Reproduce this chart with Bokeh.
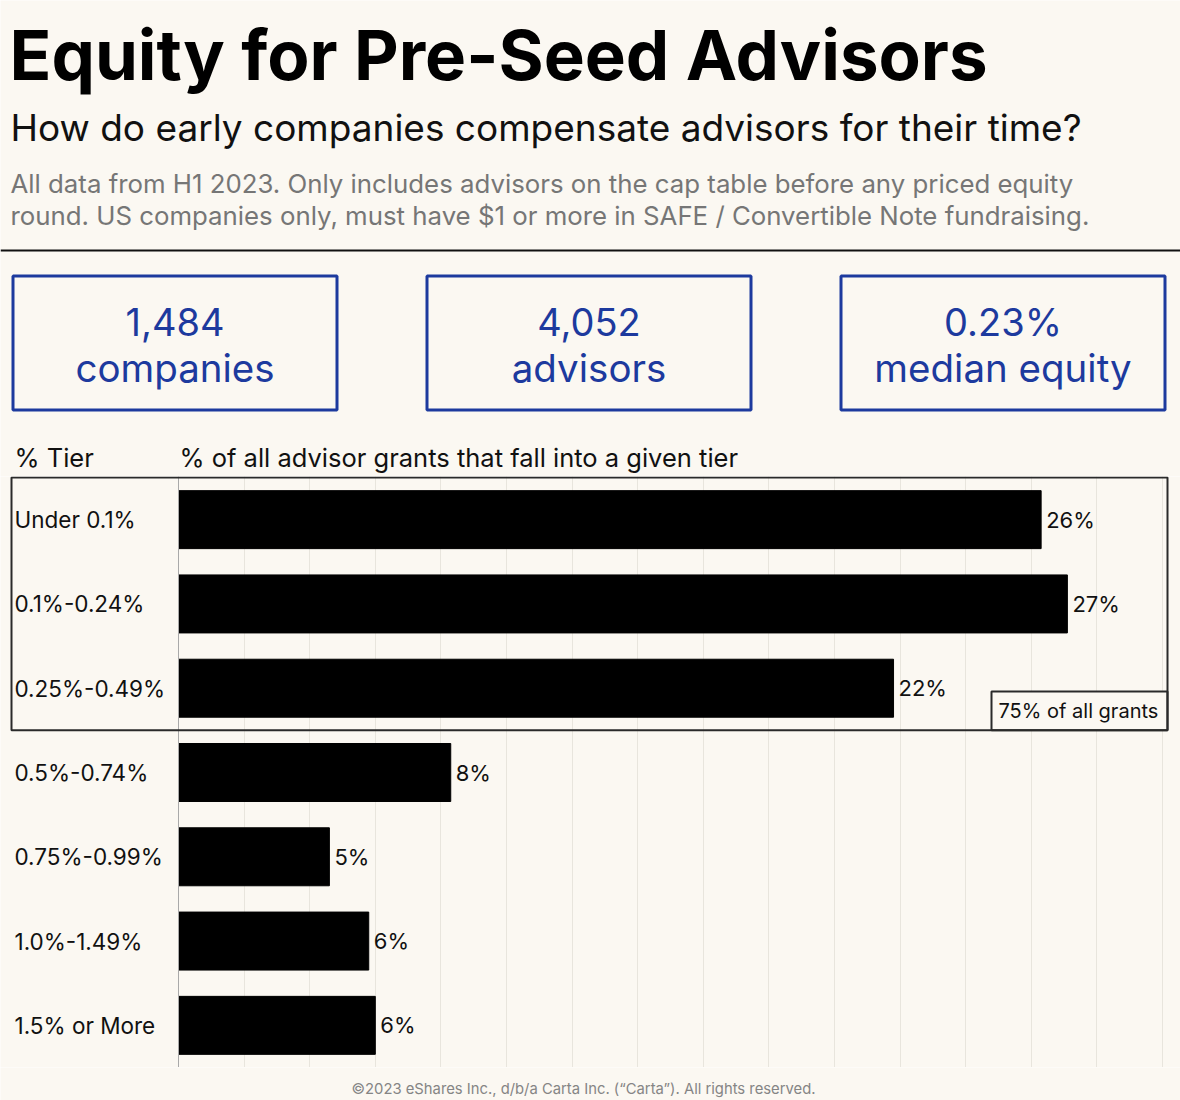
from bokeh.plotting import figure
from bokeh.layouts import column
from bokeh.models import Range1d, Grid, FixedTicker, Span, BoxAnnotation
from bokeh.core.properties import value
from bokeh.embed import file_html
from bokeh.resources import INLINE

# ---------------- data ----------------
title = "Equity for Pre-Seed Advisors"
subtitle = "How do early companies compensate advisors for their time?"
note_lines = [
    "All data from H1 2023. Only includes advisors on the cap table before any priced equity",
    "round. US companies only, must have $1 or more in SAFE / Convertible Note fundraising.",
]
stat_values = ["1,484", "4,052", "0.23%"]
stat_labels = ["companies", "advisors", "median equity"]
tier_header = "% Tier"
share_header = "% of all advisor grants that fall into a given tier"
tiers = ["Under 0.1%", "0.1%-0.24%", "0.25%-0.49%", "0.5%-0.74%",
         "0.75%-0.99%", "1.0%-1.49%", "1.5% or More"]
shares = [26.3, 27.1, 21.8, 8.3, 4.6, 5.8, 6.0]
share_labels = ["26%", "27%", "22%", "8%", "5%", "6%", "6%"]
highlight_count = 3
highlight_label = "75% of all grants"
axis_ticks = list(range(0, 31, 2))
footer = "\u00a92023 eShares Inc., d/b/a Carta Inc. (\u201cCarta\u201d). All rights reserved."

# ---------------- style ----------------
BG = "#fbf8f2"
BLUE = "#1d3a9e"
INK = "#111111"
GRAY = "#767676"
FONT = "Inter"
F = value(FONT)
W = 1180

PX_PER = 32.8      # pixels per percentage point
ZERO_X = 178       # page x of 0%
H1_END = 476       # page y where header ends / chart frame starts
CH_TOP = 477       # page y of first row's top edge
CH_BOT = 1067      # page y of last row's bottom edge
TOTAL_H = 1100


def base_fig(height, xr, yr):
    p = figure(width=W, height=height, x_range=xr, y_range=yr,
               toolbar_location=None, output_backend="svg",
               x_axis_type=None, y_axis_type=None, min_border=0,
               background_fill_color=BG, border_fill_color=BG,
               outline_line_color=None)
    return p


def mtext(p, x, y, text, size, color=INK, align="left", style="normal"):
    p.text(x=x, y=y, text=text, text_font=F, text_font_size=size,
           text_font_style=style, text_align=align, text_baseline="middle",
           text_color=color)


# ---------------- header ----------------
h = base_fig(H1_END, Range1d(0, W), Range1d(H1_END, 0))
mtext(h, [9], [54], [title], "69px", color="#000000", style="bold")
mtext(h, [10], [127], [subtitle], "37px")
mtext(h, [10, 10], [183, 215], note_lines, "25.8px", color=GRAY)
h.segment(x0=[0], y0=[250], x1=[W], y1=[250], line_width=2, line_color=INK)

box_left = [12.5, 426.5, 840.5]
box_w = 324
box_cx = [b + box_w / 2 for b in box_left]
h.quad(left=box_left, right=[b + box_w for b in box_left],
       top=[275.5] * 3, bottom=[409.5] * 3,
       fill_color=None, line_color=BLUE, line_width=3)
mtext(h, box_cx, [321] * 3, stat_values, "38px", color=BLUE, align="center")
mtext(h, box_cx, [367] * 3, stat_labels, "38.5px", color=BLUE, align="center")
mtext(h, [14, 179], [457, 457], [tier_header, share_header], "25.5px")

# ---------------- chart ----------------
n = len(tiers)
row_h = (CH_BOT - CH_TOP) / n
x_start = (0 - ZERO_X) / PX_PER
x_end = (W - ZERO_X) / PX_PER
y_top = -0.5 - (CH_TOP - H1_END) / row_h
c = base_fig(CH_BOT - H1_END, Range1d(x_start, x_end), Range1d(n - 0.5, y_top))

c.add_layout(Grid(dimension=0, ticker=FixedTicker(ticks=axis_ticks[1:]),
                  grid_line_color="#e8e5dd", grid_line_width=1))
c.add_layout(Span(location=0, dimension="height", line_color="#a9a9a9",
                  line_width=1))

idx = list(range(n))
c.hbar(y=idx, left=0, right=shares, height=0.688, fill_color="#000000",
       line_color="#000000")
mtext(c, [s + 5 / PX_PER for s in shares], idx, share_labels, "22px")
mtext(c, [(14 - ZERO_X) / PX_PER] * n, idx, tiers, "22.5px")

hl_left = (11 - ZERO_X) / PX_PER
hl_right = (1167 - ZERO_X) / PX_PER
c.add_layout(BoxAnnotation(left=hl_left, right=hl_right, top=-0.5,
                           bottom=highlight_count - 0.5, fill_color=None,
                           fill_alpha=0, line_color="#2a2a2a", line_alpha=1.0,
                           line_width=2))
lab_left = (991 - ZERO_X) / PX_PER
lab_top = highlight_count - 1 + (691 - (CH_TOP + row_h * (highlight_count - 0.5))) / row_h
c.quad(left=[lab_left], right=[hl_right], top=[lab_top],
       bottom=[highlight_count - 0.5], fill_color=BG, line_color="#2a2a2a",
       line_width=2)
mtext(c, [lab_left + 7 / PX_PER], [(lab_top + highlight_count - 0.5) / 2],
      [highlight_label], "20px")

# ---------------- footer ----------------
f = base_fig(TOTAL_H - CH_BOT, Range1d(0, W), Range1d(TOTAL_H, CH_BOT))
mtext(f, [583], [1088], [footer], "14.8px", color="#858585", align="center")

layout = column(h, c, f, spacing=0)
open("out.html", "w").write(file_html(layout, INLINE))
